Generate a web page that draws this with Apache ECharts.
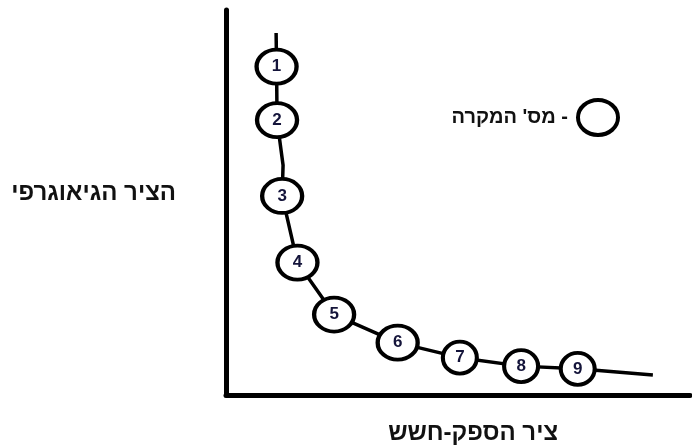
<!DOCTYPE html>
<html>
<head>
<meta charset="utf-8">
<script src="https://cdn.jsdelivr.net/npm/echarts@6/dist/echarts.min.js"></script>
<style>
  html, body { margin: 0; padding: 0; background: #fff; }
  #chart { width: 692px; height: 448px; }
</style>
</head>
<body>
<div id="chart"></div>
<script>
  // case numbers and where they sit on the two axes (0-100 scale)
  var caseNames = ['1', '2', '3', '4', '5', '6', '7', '8', '9'];
  var caseX = [10.9, 11.0, 12.1, 15.4, 23.3, 37.0, 50.4, 63.6, 75.8];
  var caseY = [85.3, 71.4, 51.7, 34.4, 20.9, 13.6, 9.7, 7.5, 6.8];
  // the hand drawn curve, runs a bit past the first and last case
  var curveX = [10.8, 10.9, 11.0, 12.3, 12.1, 15.4, 23.3, 37.0, 50.4, 63.6, 75.8, 92.0];
  var curveY = [94.0, 85.3, 71.4, 59.7, 51.7, 34.4, 20.9, 13.6, 9.7, 7.5, 6.8, 5.2];

  var xTitle = 'ציר הספק-חשש';
  var yTitle = 'הציר הגיאוגרפי';
  var legendName = '\u200F- מס\' המקרה';

  var font = 'Arial, "Liberation Sans", "DejaVu Sans", sans-serif';
  // ellipse drawn as a path so it stretches to the symbol box
  var ring = 'path://M0,50 A50,50 0 1,1 100,50 A50,50 0 1,1 0,50 Z';

  var myChart = echarts.init(document.getElementById('chart'));

  var curve = curveX.map(function (x, i) { return [x, curveY[i]]; });
  var cases = caseX.map(function (x, i) { return { value: [x, caseY[i]], name: caseNames[i] }; });

  var option = {
    animation: false,
    backgroundColor: '#fff',
    grid: { left: 226, right: 2, top: 10, bottom: 53 },
    legend: {
      right: 67,
      top: 93,
      align: 'right',
      itemWidth: 40,
      itemHeight: 35,
      symbolKeepAspect: false,
      itemStyle: { color: '#fff', borderColor: '#000', borderWidth: 4 },
      data: [{ name: legendName, icon: ring }],
      textStyle: { fontFamily: font, fontWeight: 'bold', fontSize: 20, color: '#111', padding: [0, 5, 0, 0] }
    },
    graphic: [
      {
        type: 'text',
        style: { text: yTitle, x: 176, y: 193, align: 'right', verticalAlign: 'middle',
                 font: 'bold 24px ' + font, fill: '#111' }
      },
      {
        type: 'text',
        style: { text: xTitle, x: 558, y: 433, align: 'right', verticalAlign: 'middle',
                 font: 'bold 24px ' + font, fill: '#111' }
      }
    ],
    xAxis: {
      type: 'value',
      min: 0,
      max: 100,
      axisLine: { lineStyle: { color: '#000', width: 5 } },
      axisTick: { show: false },
      axisLabel: { show: false },
      splitLine: { show: false }
    },
    yAxis: {
      type: 'value',
      min: 0,
      max: 100,
      axisLine: { show: true, lineStyle: { color: '#000', width: 5 } },
      axisTick: { show: false },
      axisLabel: { show: false },
      splitLine: { show: false }
    },
    series: [
      {
        type: 'line',
        data: curve,
        symbol: 'none',
        lineStyle: { color: '#000', width: 3.5 },
        silent: true,
        z: 1
      },
      {
        name: legendName,
        type: 'scatter',
        data: cases,
        symbol: ring,
        symbolKeepAspect: false,
        symbolSize: function (val, params) {
          return params.dataIndex < 6 ? [40, 34] : [34, 32];
        },
        itemStyle: { color: '#fff', borderColor: '#000', borderWidth: 4, opacity: 1 },
        label: {
          show: true,
          position: 'inside',
          formatter: '{b}',
          fontFamily: font,
          fontWeight: 'bold',
          fontSize: 17,
          color: '#14143a'
        },
        z: 3
      }
    ]
  };
  myChart.clear();
  myChart.setOption(option);
</script>
</body>
</html>
